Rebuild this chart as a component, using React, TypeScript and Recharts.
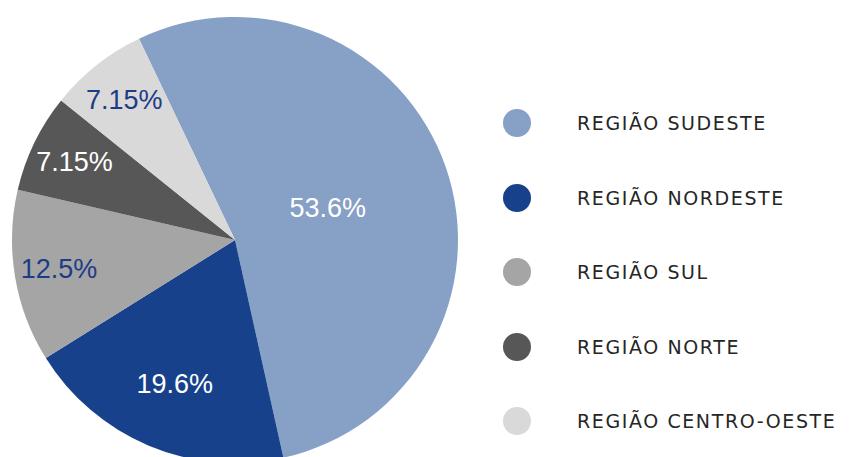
import { PieChart, Pie, Cell } from 'recharts';

const regions = ['REGIÃO SUDESTE', 'REGIÃO NORDESTE', 'REGIÃO SUL', 'REGIÃO NORTE', 'REGIÃO CENTRO-OESTE'];
const shares = [53.6, 19.6, 12.5, 7.15, 7.15];
const shareLabels = ['53.6%', '19.6%', '12.5%', '7.15%', '7.15%'];

const COLORS = ['#87A0C6', '#17418A', '#A5A5A5', '#575757', '#D9D9D9'];
const LABEL_COLORS = ['#FFFFFF', '#FFFFFF', '#1E3C85', '#FFFFFF', '#1E3C85'];

const data = regions.map((name, i) => ({ name, value: shares[i] }));

const RADIAN = Math.PI / 180;

const renderLabel = (props: any) => {
  const { cx, cy, midAngle, outerRadius, percent, index } = props;
  // big slice label sits near the centre, smaller ones closer to the rim
  const k = percent > 0.3 ? 0.44 : percent > 0.15 ? 0.7 : 0.8;
  const r = outerRadius * k;
  const x = cx + r * Math.cos(-midAngle * RADIAN);
  const y = cy + r * Math.sin(-midAngle * RADIAN);
  return (
    <text
      x={x}
      y={y}
      fill={LABEL_COLORS[index]}
      textAnchor="middle"
      dominantBaseline="central"
      fontFamily="'Liberation Sans', Arial, sans-serif"
      fontSize={27}
    >
      {shareLabels[index]}
    </text>
  );
};

function RegionLegend() {
  return (
    <div style={{ position: 'absolute', left: 503, top: 86 }}>
      {regions.map((name, i) => (
        <div key={name} style={{ display: 'flex', alignItems: 'center', height: 74.5 }}>
          <div
            style={{
              width: 28,
              height: 28,
              borderRadius: '50%',
              background: COLORS[i],
              marginRight: 46,
            }}
          />
          <span
            style={{
              fontFamily: "'DejaVu Sans', sans-serif",
              fontSize: 19,
              letterSpacing: 1.6,
              color: '#262626',
              whiteSpace: 'nowrap',
            }}
          >
            {name}
          </span>
        </div>
      ))}
    </div>
  );
}

export default function App() {
  return (
    <div style={{ position: 'absolute', left: 0, top: 0, width: 859, height: 457, background: '#fff' }}>
      <PieChart width={859} height={457} margin={{ top: 0, right: 0, bottom: 0, left: 0 }}>
        <Pie
          data={data}
          dataKey="value"
          nameKey="name"
          cx={235}
          cy={240}
          outerRadius={223}
          startAngle={115.5}
          endAngle={-244.5}
          stroke="none"
          labelLine={false}
          label={renderLabel}
          isAnimationActive={false}
        >
          {data.map((_, i) => (
            <Cell key={i} fill={COLORS[i]} />
          ))}
        </Pie>
      </PieChart>
      <RegionLegend />
    </div>
  );
}
